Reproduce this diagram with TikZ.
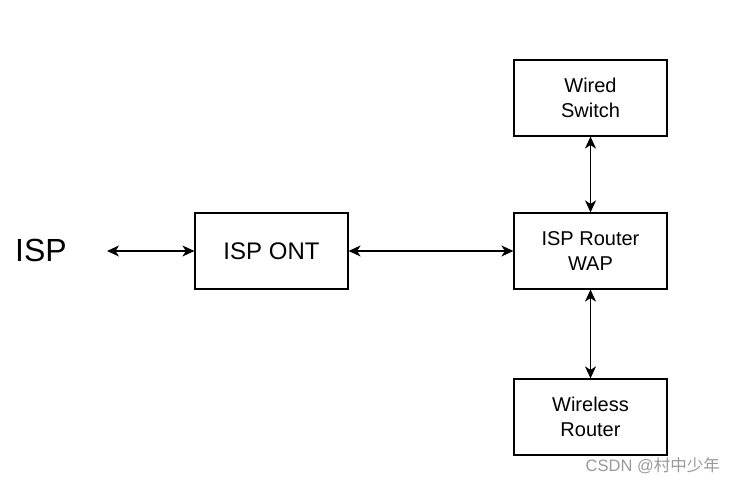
\documentclass[tikz,border=0pt]{standalone}
\usepackage{fontspec}
\setmainfont{Liberation Sans}
\newfontfamily\cjk{Noto Sans CJK SC}
\usetikzlibrary{arrows.meta}
\begin{document}
\begin{tikzpicture}[x=1pt,y=1pt,
  >={Stealth[length=12pt,width=11pt,inset=3.5pt]},
  boxnode/.style={draw=black,line width=1.2pt,minimum width=153pt,minimum height=76pt,inner sep=0pt,align=center,font=\fontsize{20}{25}\selectfont},
  link/.style={line width=1.4pt,<->}]
\useasboundingbox (0,0) rectangle (735,484);
\node[boxnode,font=\fontsize{24}{30}\selectfont] (ont) at (271.5,233) {ISP ONT};
\node[boxnode] (router) at (590.5,233) {ISP Router\\WAP};
\node[boxnode] (switch) at (590.5,386) {Wired\\Switch};
\node[boxnode] (wireless) at (590.5,67) {Wireless\\Router};
\node[anchor=west,inner sep=0pt,font=\fontsize{32}{38}\selectfont] (isp) at (15,234) {ISP};
\coordinate (ispend) at (107,233);
\draw[link] (ispend) -- (ont.west);
\draw[link] (ont.east) -- (router.west);
\draw[link] (switch.south) -- (router.north);
\draw[link] (router.south) -- (wireless.north);
\node[anchor=east,inner sep=0pt,text=black!40,font=\fontsize{16.5}{20}\selectfont] (wm) at (720,18) {CSDN @{\cjk 村中少年}};
\end{tikzpicture}
\end{document}
